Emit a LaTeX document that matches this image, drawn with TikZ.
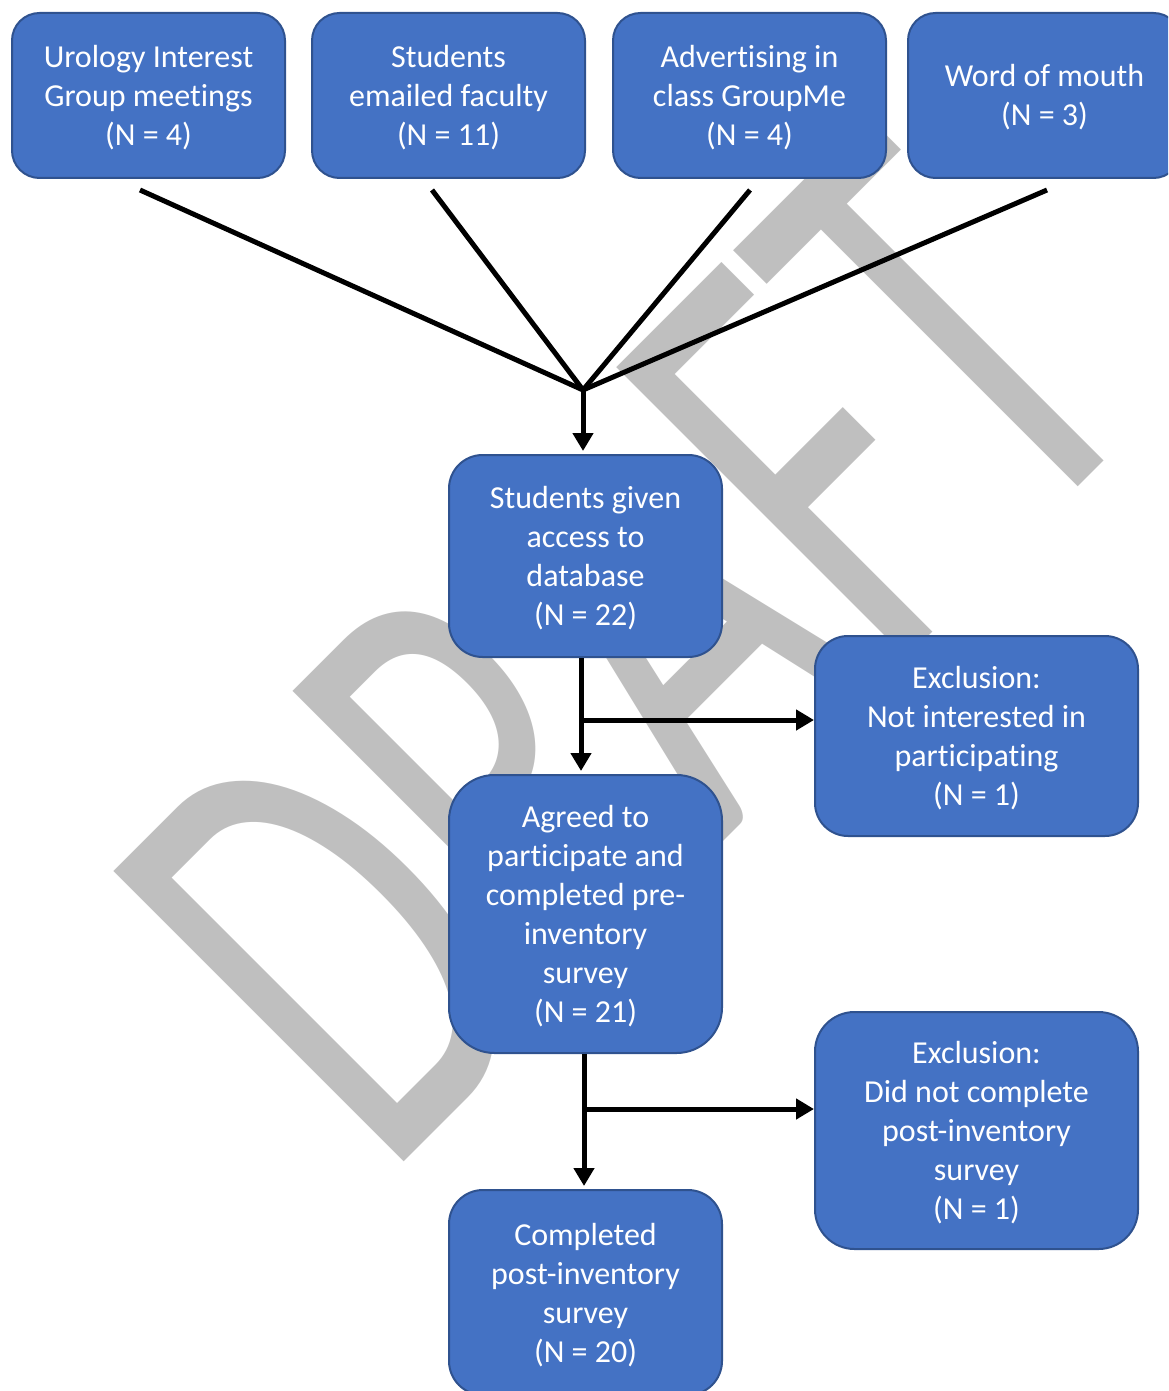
\documentclass[tikz,border=0pt]{standalone}
\usepackage{fontspec}
\setmainfont{Carlito}[RawFeature=-liga]
\newfontfamily\wmfont[Kerning=Off]{Carlito}
\usepackage{graphicx}
\usetikzlibrary{arrows.meta,calc}
\definecolor{boxfill}{HTML}{4472C4}
\definecolor{boxline}{HTML}{2F528F}
\definecolor{wm}{RGB}{191,191,191}
\newcommand{\btext}[1]{\raisebox{-1.6pt}[\height][\depth]{\begin{tabular}{@{}c@{}}#1\end{tabular}}}
\begin{document}
\begin{tikzpicture}[x=0.5pt,y=-0.5pt,
  box/.style={draw=boxline, fill=boxfill, line width=1pt, text=white,
    align=center, inner sep=0pt, font=\fontsize{16pt}{19.5pt}\selectfont},
  topbox/.style={box, minimum width=136.5pt, minimum height=82.5pt, rounded corners=13.75pt},
  conn/.style={line width=2.5pt, draw=black},
  arr/.style={conn, -{Triangle[width=10pt,length=9pt]}}]
\clip (0,0) rectangle (1168,1391);
\useasboundingbox (0,0) rectangle (1168,1391);
% watermark
\node[anchor=base west, inner sep=0pt, outer sep=0pt, rotate=45, text=wm] (wmk) at (384,1181)
  {\scalebox{0.64}[1]{\wmfont\fontsize{320pt}{320pt}\selectfont DRAFT}};
% top boxes
\node[topbox] (b1) at (148.5,95.5) {\btext{Urology Interest\\Group meetings\\(N = 4)}};
\node[topbox] (b2) at (448.5,95.5) {\btext{Students\\emailed faculty\\(N = 11)}};
\node[topbox] (b3) at (749.5,95.5) {\btext{Advertising in\\class GroupMe\\(N = 4)}};
\node[topbox] (b4) at (1044.5,95.5) {\btext{Word of mouth\\(N = 3)}};
% flow boxes
\node[box, minimum width=136.5pt, minimum height=101pt, rounded corners=16.8pt] (b5) at (585.5,556)
  {\btext{Students given\\access to\\database\\(N = 22)}};
\node[box, minimum width=161.5pt, minimum height=100pt, rounded corners=16.5pt] (b6) at (976.5,736)
  {\btext{Exclusion:\\Not interested in\\participating\\(N = 1)}};
\node[box, minimum width=136.5pt, minimum height=139pt, rounded corners=22.75pt] (b7) at (585.5,914)
  {\btext{Agreed to\\participate and\\completed pre-\\inventory\\survey\\(N = 21)}};
\node[box, minimum width=161.5pt, minimum height=118.5pt, rounded corners=19.75pt] (b8) at (976.5,1130.5)
  {\btext{Exclusion:\\Did not complete\\post-inventory\\survey\\(N = 1)}};
\node[box, minimum width=136.5pt, minimum height=102.5pt, rounded corners=17pt] (b9) at (585.5,1292.5)
  {\btext{Completed\\post-inventory\\survey\\(N = 20)}};
% connectors
\coordinate (J) at (583,390);
\coordinate (t1) at (140,190);
\coordinate (t2) at (432,190);
\coordinate (t3) at (750,190);
\coordinate (t4) at (1047,190);
\draw[conn] (t1) -- (J);
\draw[conn] (t2) -- (J);
\draw[conn] (t3) -- (J);
\draw[conn] (t4) -- (J);
\draw[arr, shorten >=1.5pt] (J) -- (J |- b5.north);
\coordinate (k1) at (581,720);
\draw[arr, shorten >=1.5pt] (k1 |- b5.south) -- (k1 |- b7.north);
\draw[arr] (k1) -- (k1 -| b6.west);
\coordinate (k2) at (584,1109);
\draw[arr, shorten >=1.5pt] (k2 |- b7.south) -- (k2 |- b9.north);
\draw[arr] (k2) -- (k2 -| b8.west);
\end{tikzpicture}
\end{document}
